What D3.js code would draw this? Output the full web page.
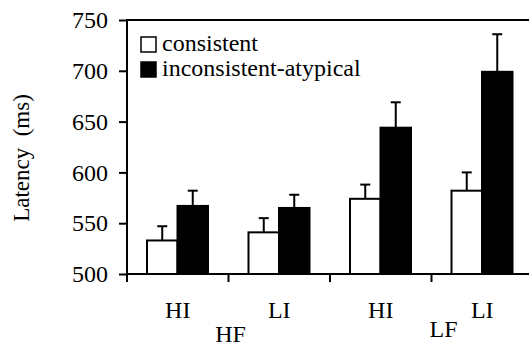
<!DOCTYPE html>
<html>
<head>
<meta charset="utf-8">
<script src="https://cdn.jsdelivr.net/npm/d3@7"></script>
<style>
  body { margin: 0; background: #fff; }
</style>
</head>
<body>
<div id="chart"></div>
<script>
(() => {

// data
const conditions = ['HI', 'LI', 'HI', 'LI'];
const groups = ['HF', 'LF'];
const seriesNames = ['consistent', 'inconsistent-atypical'];
const consistentMeans = [533, 541, 574, 582];
const consistentErrs = [14, 14, 14, 18];
const inconsistentMeans = [567, 565, 644, 699];
const inconsistentErrs = [15, 13, 25, 37];
const yTicks = [500, 550, 600, 650, 700, 750];

const FONT = '"Liberation Serif", "Times New Roman", serif';

const config = {
  width: 529,
  height: 347,
  axisX: 127,
  plotTop: 20,
  plotBottom: 274,
  plotRight: 533,
  fontSize: 24,
  lineWidth: 2
};

const svg = d3.select('#chart')
  .append('svg')
  .attr('width', config.width)
  .attr('height', config.height);

const addText = (sel) => sel
  .attr('font-family', FONT)
  .style('font-family', FONT)
  .style('font-size', config.fontSize + 'px')
  .attr('fill', '#000');

const scaleY = d3.scaleLinear()
  .domain([500, 750])
  .range([config.plotBottom, config.plotTop]);

const slots = conditions.map((c, i) => i);
const scaleX = d3.scaleBand()
  .domain(slots)
  .range([config.axisX, config.plotRight]);

// bars sit inside each slot, leaving a gap on both sides
const scaleInner = d3.scaleBand()
  .domain([0, 1])
  .range([20, 81]);

const rows = [];
slots.forEach(i => {
  rows.push({slot: i, s: 0, mean: consistentMeans[i], err: consistentErrs[i]});
  rows.push({slot: i, s: 1, mean: inconsistentMeans[i], err: inconsistentErrs[i]});
});

// top frame line
svg.append('line')
  .attr('x1', config.axisX)
  .attr('x2', config.width)
  .attr('y1', scaleY(750))
  .attr('y2', scaleY(750))
  .attr('stroke', '#000')
  .attr('stroke-width', config.lineWidth);

// error bars (upper only)
const errG = svg.append('g');
rows.forEach(d => {
  const cx = scaleX(d.slot) + scaleInner(d.s) + scaleInner.bandwidth() / 2;
  errG.append('line')
    .attr('x1', cx).attr('x2', cx)
    .attr('y1', scaleY(d.mean)).attr('y2', scaleY(d.mean + d.err))
    .attr('stroke', '#000').attr('stroke-width', config.lineWidth);
  errG.append('line')
    .attr('x1', cx - 5).attr('x2', cx + 5)
    .attr('y1', scaleY(d.mean + d.err)).attr('y2', scaleY(d.mean + d.err))
    .attr('stroke', '#000').attr('stroke-width', config.lineWidth);
});

svg.append('g')
  .selectAll('rect')
  .data(rows)
  .enter()
  .append('rect')
  .attr('x', d => scaleX(d.slot) + scaleInner(d.s))
  .attr('y', d => scaleY(d.mean))
  .attr('width', scaleInner.bandwidth())
  .attr('height', d => scaleY(500) - scaleY(d.mean))
  .attr('fill', d => d.s === 0 ? '#fff' : '#000')
  .attr('stroke', '#000')
  .attr('stroke-width', config.lineWidth);

// y axis
const yAxis = d3.axisLeft(scaleY)
  .tickValues(yTicks)
  .tickSize(8)
  .tickPadding(11);

const yG = svg.append('g')
  .attr('transform', `translate(${config.axisX}, 0)`)
  .call(yAxis)
  .attr('font-family', FONT)
  .attr('font-size', config.fontSize);
yG.select('.domain').remove();
yG.selectAll('.tick line').attr('stroke-width', config.lineWidth);
yG.selectAll('.tick text').call(addText);

svg.append('line')
  .attr('x1', config.axisX).attr('x2', config.axisX)
  .attr('y1', scaleY(750) - 1).attr('y2', config.plotBottom + 8)
  .attr('stroke', '#000').attr('stroke-width', config.lineWidth);

// x axis baseline and slot boundary ticks
svg.append('line')
  .attr('x1', config.axisX).attr('x2', config.width)
  .attr('y1', scaleY(500)).attr('y2', scaleY(500))
  .attr('stroke', '#000').attr('stroke-width', config.lineWidth);

svg.append('g')
  .selectAll('line')
  .data(slots.slice(1))
  .enter()
  .append('line')
  .attr('x1', d => scaleX(d)).attr('x2', d => scaleX(d))
  .attr('y1', config.plotBottom).attr('y2', config.plotBottom + 8)
  .attr('stroke', '#000').attr('stroke-width', config.lineWidth);

// condition labels
svg.append('g')
  .selectAll('text')
  .data(slots)
  .enter()
  .append('text')
  .attr('x', d => scaleX(d) + scaleX.bandwidth() / 2)
  .attr('y', 318)
  .attr('text-anchor', 'middle')
  .call(addText)
  .text(d => conditions[d]);

// group labels
const groupPos = [{x: scaleX(1) + 2, y: 342}, {x: scaleX(3) + 12, y: 337}];
svg.append('g')
  .selectAll('text')
  .data(groups)
  .enter()
  .append('text')
  .attr('x', (d, i) => groupPos[i].x)
  .attr('y', (d, i) => groupPos[i].y)
  .attr('text-anchor', 'middle')
  .call(addText)
  .text(d => d);

// y title
svg.append('text')
  .attr('transform', 'translate(29, 158) rotate(-90)')
  .attr('text-anchor', 'middle')
  .call(addText)
  .style('font-size', '23px')
  .style('white-space', 'pre')
  .text('Latency  (ms)');

// legend
const legend = svg.append('g');
seriesNames.forEach((name, i) => {
  const y = 37 + i * 25;
  legend.append('rect')
    .attr('x', 141).attr('y', y)
    .attr('width', 15).attr('height', 15)
    .attr('fill', i === 0 ? '#fff' : '#000')
    .attr('stroke', '#000')
    .attr('stroke-width', 1.5);
  legend.append('text')
    .attr('x', 162).attr('y', y + 14)
    .call(addText)
    .text(name);
});

})();
</script>
</body>
</html>
